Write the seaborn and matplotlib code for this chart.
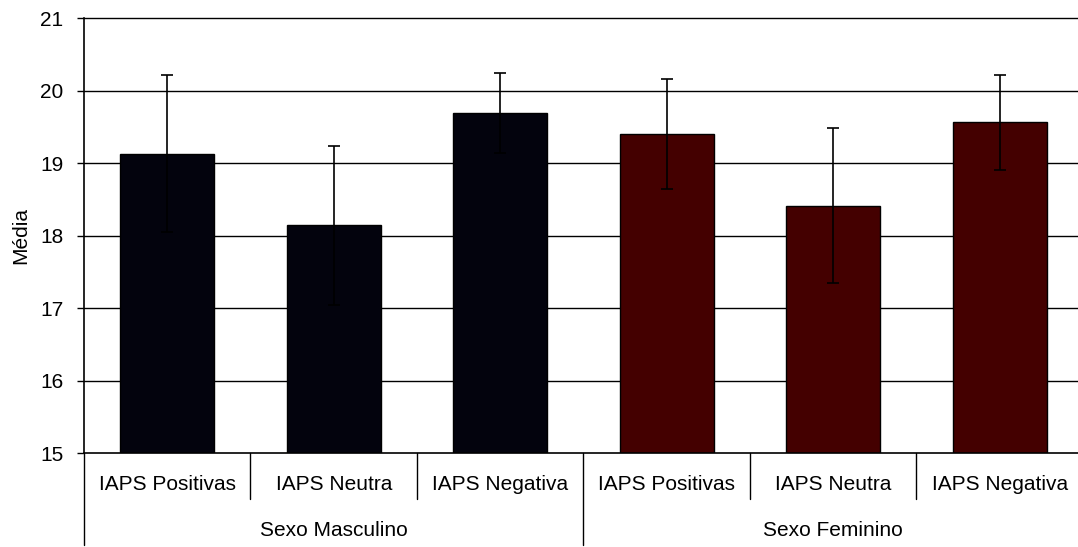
import pandas as pd
import numpy as np
import matplotlib
matplotlib.use("Agg")
import matplotlib.pyplot as plt
import seaborn as sns

condicoes = ["IAPS Positivas", "IAPS Neutra", "IAPS Negativa",
             "IAPS Positivas", "IAPS Neutra", "IAPS Negativa"]
sexo = ["Sexo Masculino"] * 3 + ["Sexo Feminino"] * 3
grupos = ["Sexo Masculino", "Sexo Feminino"]
media = [19.13, 18.14, 19.69, 19.40, 18.41, 19.56]
erro = [1.08, 1.10, 0.55, 0.76, 1.07, 0.65]
cores = ["#03030d", "#440000"]

sns.set_theme(style="white")
plt.rcParams['font.family'] = ['Liberation Sans', 'DejaVu Sans']

data = pd.DataFrame({
    'pos': np.arange(len(media)),
    'media': media,
    'sexo': sexo,
})

fig = plt.figure(figsize=(10.78, 5.47), dpi=100)
ax = fig.add_axes([0.0779, 0.1718, 0.9267, 0.7952])

sns.barplot(data=data, x='pos', y='media', hue='sexo', hue_order=grupos,
            palette=cores, saturation=1, dodge=False, width=0.565,
            edgecolor='black', linewidth=1, legend=False, ax=ax, zorder=2)

ax.errorbar(data['pos'], media, yerr=erro, fmt='none', ecolor='black',
            elinewidth=1.2, capsize=4.5, capthick=1.2, zorder=3)

ax.set_ylim(15, 21)
ax.set_xlim(-0.5, 5.5)
ax.set_yticks(range(15, 22))
ax.tick_params(axis='y', length=5, width=1, color='black', labelsize=15,
               left=True, pad=10, labelcolor='black')
for y in range(16, 22):
    ax.axhline(y, color='black', lw=1, zorder=1, clip_on=False)

ax.set_xticks(data['pos'])
ax.set_xticklabels([])
ax.tick_params(axis='x', length=0)
ax.set_xlabel('')
ax.set_ylabel('Média', fontsize=15, color='black')
ax.yaxis.set_label_coords(-0.054, 0.5)

for s in ['top', 'right']:
    ax.spines[s].set_visible(False)
for s in ['left', 'bottom']:
    ax.spines[s].set_color('black')
    ax.spines[s].set_linewidth(1.2)

trans = ax.get_xaxis_transform()
for p, nome in zip(data['pos'], condicoes):
    ax.text(p, -0.0713, nome, transform=trans, ha='center', va='center',
            fontsize=15, color='black')

for i, xb in enumerate(np.arange(-0.5, 6.0, 1.0)):
    y0 = -0.211 if i % 3 == 0 else -0.106
    ax.plot([xb, xb], [0, y0], color='black', lw=1, transform=trans,
            clip_on=False)

for g, nome in enumerate(grupos):
    ax.text(g * 3 + 1, -0.177, nome, transform=trans, ha='center',
            va='center', fontsize=15, color='black')

fig.savefig('out.png', dpi=100)
